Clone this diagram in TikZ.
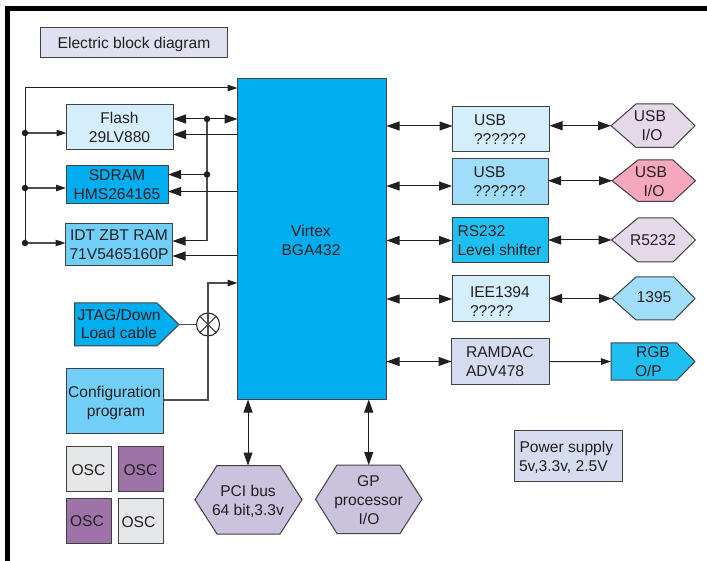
\documentclass[tikz,border=0pt]{standalone}
\usepackage{fontspec}
\setmainfont{Liberation Sans}
\usetikzlibrary{arrows.meta,calc}
\definecolor{ink}{HTML}{231F20}
\definecolor{edge}{HTML}{414042}
\definecolor{wiregrey}{HTML}{4D4D4F}
\definecolor{cyanA}{HTML}{00ADEF}
\definecolor{cyanB}{HTML}{72CFF7}
\definecolor{cyanC}{HTML}{D5EEFB}
\definecolor{cyanD}{HTML}{A0DDF9}
\definecolor{cyanE}{HTML}{1FC0F1}
\definecolor{lavA}{HTML}{DFE1F0}
\definecolor{lavB}{HTML}{D6DCF0}
\definecolor{lilacA}{HTML}{E5D8E9}
\definecolor{lilacB}{HTML}{CBC2DE}
\definecolor{pinkA}{HTML}{F5A7BD}
\definecolor{purpA}{HTML}{9E73A8}
\definecolor{greyA}{HTML}{E6E7E8}
\tikzset{
  shapeline/.style={draw=edge,line width=1pt,line join=miter},
  lbl/.style={font=\fontsize{15.6}{18}\selectfont,text=ink,inner sep=0pt,outer sep=0pt},
  wire/.style={draw=ink,line width=1pt},
  greywire/.style={draw=wiregrey,line width=1.1pt},
  tip/.style={-{Triangle[length=13pt,width=9pt,color=ink]}},
  both/.style={{Triangle[length=13pt,width=9pt,color=ink]}-{Triangle[length=13pt,width=9pt,color=ink]}},
  tinytip/.style={-{Triangle[length=10pt,width=6.5pt,color=ink]}},
  jdot/.style={circle,fill=ink,inner sep=0pt,minimum size=6.5pt},
  ghost/.style={inner sep=0pt,outer sep=0pt}
}
% name, x1, y1, x2, y2, fill
\newcommand{\bx}[6]{\node[shapeline,fill=#6,inner sep=0pt,outer sep=0pt,minimum width={(#4-#2)*1pt},minimum height={(#5-#3)*1pt}] (#1) at ({(#2+#4)/2},{(#3+#5)/2}) {};}
% name, xl, xa, xb, xr, yt, yb, fill
\newcommand{\hexa}[8]{\draw[shapeline,fill=#8] (#2,{(#6+#7)/2}) -- (#3,#6) -- (#4,#6) -- (#5,{(#6+#7)/2}) -- (#4,#7) -- (#3,#7) -- cycle;
  \node[ghost,minimum width={(#5-#2)*1pt},minimum height={(#7-#6)*1pt}] (#1) at ({(#2+#5)/2},{(#6+#7)/2}) {};}
% name, xl, xn, xr, yt, yb, fill
\newcommand{\pent}[7]{\draw[shapeline,fill=#7] (#2,#5) -- (#3,#5) -- (#4,{(#5+#6)/2}) -- (#3,#6) -- (#2,#6) -- cycle;
  \node[ghost,minimum width={(#4-#2)*1pt},minimum height={(#6-#5)*1pt}] (#1) at ({(#2+#4)/2},{(#5+#6)/2}) {};}
% centred / left text by baseline
\newcommand{\ctext}[4]{\node[lbl,anchor=base] (#1) at (#2,#3) {#4};}
\newcommand{\ltext}[4]{\node[lbl,anchor=base west] (#1) at (#2,#3) {#4};}
\begin{document}
\begin{tikzpicture}[x=1pt,y=-1pt]
\useasboundingbox (0,0) rectangle (707,561);
\fill[white] (0,0) rectangle (707,561);
\fill[black] (5,6) rectangle (707,11);
\fill[black] (5,6) rectangle (10,561);

\bx{title}{40.5}{27.5}{227}{58}{lavA}
\bx{virtex}{237.5}{79}{386.5}{399.5}{cyanA}
\bx{flash}{66.5}{105}{173}{150}{cyanC}
\bx{sdram}{66}{166}{168}{204}{cyanA}
\bx{idt}{65.5}{224}{172.5}{266}{cyanB}
\bx{config}{66}{368}{163}{433}{cyanB}
\bx{oscA}{66}{446}{111}{491}{greyA}
\bx{oscB}{118}{446}{163.5}{491}{purpA}
\bx{oscC}{66}{498}{111}{543}{purpA}
\bx{oscD}{118}{498}{163.5}{543}{greyA}
\bx{usbA}{452.5}{106.5}{549.5}{152}{cyanC}
\bx{usbB}{452}{159}{548}{204.5}{cyanD}
\bx{rs}{452}{218}{548}{263}{cyanE}
\bx{iee}{452}{276}{549}{321.5}{cyanC}
\bx{ramdac}{451.5}{339}{549}{384.5}{lavB}
\bx{power}{514}{430}{622}{481}{lavB}

\pent{jtag}{74.5}{157}{179}{303}{346}{cyanA}
\pent{rgb}{611}{677}{695}{343}{380}{cyanE}
\hexa{pci}{195}{217}{280}{302}{465.5}{534}{lilacB}
\hexa{gp}{315.5}{337}{400}{422}{465}{533.5}{lilacB}
\hexa{ioA}{611}{636}{673}{695}{104}{147.5}{lilacA}
\hexa{ioB}{612}{638}{673}{695.5}{160}{201.5}{pinkA}
\hexa{ioC}{611.5}{638}{673}{695.5}{218}{262}{lilacA}
\hexa{ioD}{612}{636}{674}{695}{277}{320}{cyanD}

% left bus
\coordinate (busT) at (25,88);
\coordinate (busF) at (25,133);
\coordinate (busS) at (25,188);
\coordinate (busI) at (25,243);
\draw[wire] (busI) -- (busT);
\draw[wire,tinytip] (busT) -- (virtex.west |- busT);
\draw[greywire,tinytip] (busF) -- (flash.west |- busF);
\draw[greywire,tinytip] (busS) -- (sdram.west |- busS);
\draw[greywire,tinytip] (busI) -- (idt.west |- busI);
\node[jdot] (dotF) at (busF) {};
\node[jdot] (dotS) at (busS) {};
\node[jdot] (dotI) at (busI) {};

% memory data / address
\coordinate (dataF) at (207,119);
\coordinate (dataS) at (207,174.5);
\coordinate (dataI) at (207,241);
\draw[wire,both] (flash.east |- dataF) -- (virtex.west |- dataF);
\draw[greywire] (dataF) -- (dataI);
\draw[wire,tip] (dataS) -- (sdram.east |- dataS);
\draw[wire,tip] (dataI) -- (idt.east |- dataI);
\node[jdot] (dotA) at (dataF) {};
\node[jdot] (dotB) at (dataS) {};
\coordinate (addrF) at (237,134.5);
\coordinate (addrS) at (237,191.5);
\coordinate (addrI) at (237,256);
\draw[wire,tip] (addrF) -- (flash.east |- addrF);
\draw[wire,tip] (addrS) -- (sdram.east |- addrS);
\draw[wire,tip] (addrI) -- (idt.east |- addrI);

% config
\node[draw=ink,line width=1pt,circle,inner sep=0pt,outer sep=0pt,minimum size=23pt] (mix) at (208,324.5) {};
\draw[wire] (mix.north west) -- (mix.south east);
\draw[wire] (mix.north east) -- (mix.south west);
\draw[greywire] (jtag.east) -- (mix.west);
\coordinate (cfgT) at (208,283);
\draw[greywire,tinytip] (config.east |- 0,400) -| (cfgT) -- (virtex.west |- cfgT);

% bottom
\draw[wire,both] (pci.north -| 248,0) -- (virtex.south -| 248,0);
\draw[wire,both] (gp.north) -- (gp.north |- virtex.south);

% right
\draw[wire,both] (virtex.east |- 0,126) -- (usbA.west |- 0,126);
\draw[wire,both] (virtex.east |- 0,186) -- (usbB.west |- 0,186);
\draw[wire,both] (virtex.east |- 0,240.5) -- (rs.west |- 0,240.5);
\draw[wire,both] (virtex.east |- 0,299) -- (iee.west |- 0,299);
\draw[wire,both] (virtex.east |- 0,361.5) -- (ramdac.west |- 0,361.5);
\draw[wire,both] (usbA.east |- ioA.west) -- (ioA.west);
\draw[wire,both] (usbB.east |- ioB.west) -- (ioB.west);
\draw[wire,both] (rs.east |- ioC.west) -- (ioC.west);
\draw[wire,both] (iee.east |- ioD.west) -- (ioD.west);
\draw[wire,tinytip] (ramdac.east) -- (rgb.west);

% text
\ctext{tTitle}{134}{48.5}{Electric block diagram}
\ctext{tFlashA}{119.5}{124}{Flash}
\ctext{tFlashB}{119.5}{143}{29LV880}
\ctext{tSdA}{117}{181}{SDRAM}
\ctext{tSdB}{117}{200}{HMS264165}
\ctext{tIdtA}{119}{241}{IDT ZBT RAM}
\ctext{tIdtB}{119}{260}{71V5465160P}
\ctext{tJtA}{119}{321}{JTAG/Down}
\ctext{tJtB}{119}{339}{Load cable}
\ctext{tCfgA}{114.5}{397}{Configuration}
\ctext{tCfgB}{116}{416}{program}
\ctext{tOscA}{88.5}{475}{OSC}
\ctext{tOscB}{140.5}{475}{OSC}
\ctext{tOscC}{87}{526}{OSC}
\ctext{tOscD}{138.5}{527}{OSC}
\ctext{tPciA}{248}{496.5}{PCI bus}
\ctext{tPciB}{248}{515.5}{64 bit,3.3v}
\ctext{tGpA}{368.5}{486}{GP}
\ctext{tGpB}{368.5}{505}{processor}
\ctext{tGpC}{369}{524}{I/O}
\ctext{tVirA}{311}{236.5}{Virtex}
\ctext{tVirB}{311}{255.5}{BGA432}
\ltext{tUsbAa}{474}{125.5}{USB}
\ltext{tUsbAb}{474}{144.5}{??????}
\ltext{tUsbBa}{473.5}{178}{USB}
\ltext{tUsbBb}{473.5}{197}{??????}
\ltext{tRsA}{457.5}{237}{RS232}
\ltext{tRsB}{457.5}{256}{Level shifter}
\ltext{tIeeA}{470}{298}{IEE1394}
\ltext{tIeeB}{470}{317}{?????}
\ltext{tRamA}{466}{358}{RAMDAC}
\ltext{tRamB}{466}{377}{ADV478}
\ctext{tIoAa}{650}{122}{USB}
\ctext{tIoAb}{652}{141}{I/O}
\ctext{tIoBa}{651}{178}{USB}
\ctext{tIoBb}{654}{196.5}{I/O}
\ctext{tIoC}{653}{246}{R5232}
\ctext{tIoD}{654}{303}{1395}
\ltext{tRgbA}{636}{358}{RGB}
\ltext{tRgbB}{635}{377}{O/P}
\ltext{tPwrA}{519.5}{452}{Power supply}
\ltext{tPwrB}{519}{471}{5v,3.3v, 2.5V}
\end{tikzpicture}
\end{document}
